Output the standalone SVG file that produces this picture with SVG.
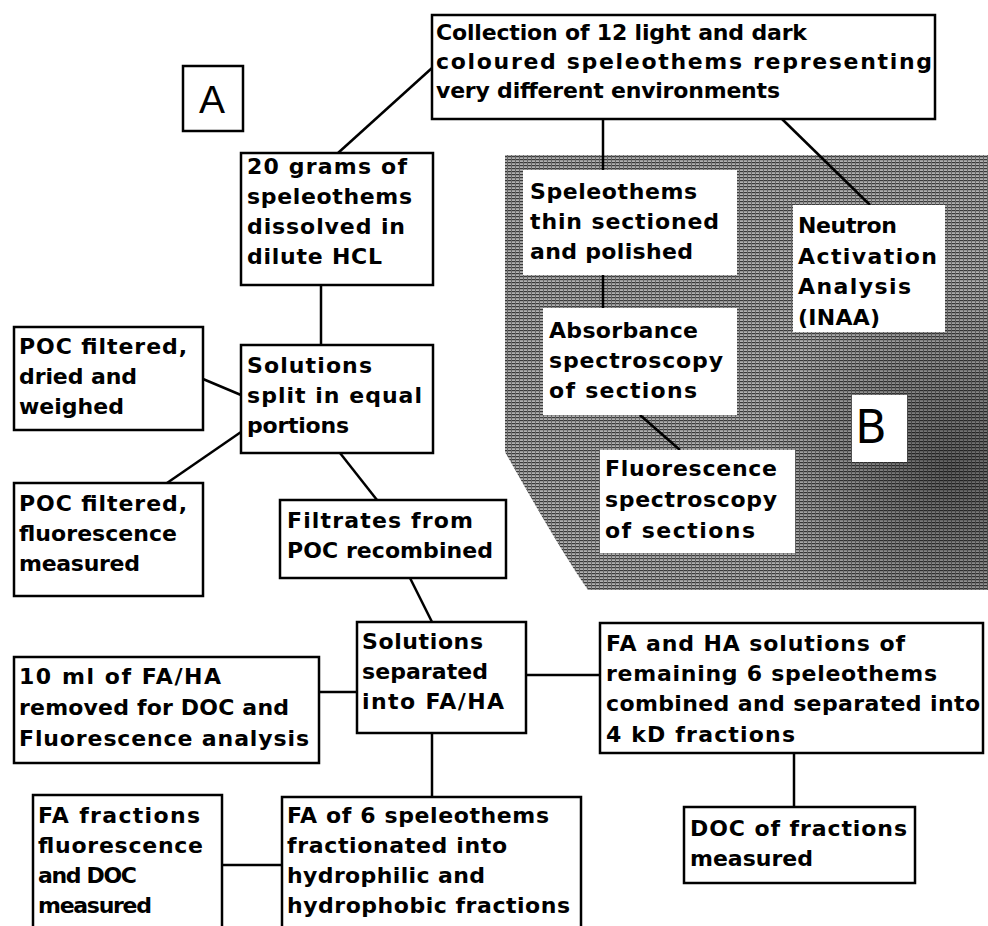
<svg xmlns="http://www.w3.org/2000/svg" width="988" height="926" viewBox="0 0 988 926">
<style>
.box{fill:#fff;stroke:#000;stroke-width:2.5}
.wb{fill:#fff;stroke:none}
.t{font-family:"DejaVu Sans","Liberation Sans",sans-serif;font-weight:bold;font-size:22px;fill:#000}
.c line{stroke:#000;stroke-width:2.5}
</style>
<defs>
<pattern id="ht" width="4" height="3" patternUnits="userSpaceOnUse">
<rect width="4" height="3" fill="#b0b0b0"/>
<rect y="0" width="4" height="1.2" fill="#3a3a3a"/>
<rect x="3" width="1" height="3" fill="#666"/>
</pattern>
<radialGradient id="dk" cx="950" cy="470" r="190" gradientUnits="userSpaceOnUse">
<stop offset="0" stop-color="#000" stop-opacity="0.45"/>
<stop offset="1" stop-color="#000" stop-opacity="0"/>
</radialGradient>
</defs>
<rect width="988" height="926" fill="#fff"/>
<g id="shade">
<path d="M505,155 H988 V590 H588 Q560,550 505,452 Z" fill="url(#ht)"/>
<path d="M505,155 H988 V590 H588 Q560,550 505,452 Z" fill="url(#dk)"/>
</g>
<g class="c" id="connectors">
<line x1="432" y1="68" x2="338" y2="153"/>
<line x1="603" y1="119" x2="603" y2="170"/>
<line x1="603" y1="275" x2="603" y2="308"/>
<line x1="782" y1="119" x2="870" y2="205"/>
<line x1="640" y1="415" x2="680" y2="450"/>
<line x1="321" y1="285" x2="321" y2="345"/>
<line x1="203" y1="379" x2="241" y2="395"/>
<line x1="241" y1="432" x2="167" y2="483"/>
<line x1="340" y1="453" x2="377" y2="500"/>
<line x1="410" y1="578" x2="432" y2="622"/>
<line x1="319" y1="692" x2="357" y2="692"/>
<line x1="526" y1="675" x2="600" y2="675"/>
<line x1="794" y1="753" x2="794" y2="807"/>
<line x1="432" y1="733" x2="432" y2="797"/>
<line x1="222" y1="865" x2="282" y2="865"/>
</g>
<g id="labelA">
<rect class="box" x="183" y="66" width="60" height="65"/>
<text x="212" y="113" text-anchor="middle" style="font-family:'Liberation Sans',sans-serif;font-size:39px">A</text>
</g>
<g id="collection">
<rect class="box" x="432" y="15" width="503" height="104"/>
<text class="t" x="436" y="40" textLength="371">Collection of 12 light and dark</text>
<text class="t" x="436" y="69" textLength="496">coloured speleothems representing</text>
<text class="t" x="436" y="98" textLength="344">very different environments</text>
</g>
<g id="dissolved">
<rect class="box" x="241" y="153" width="192" height="132"/>
<text class="t" x="247" y="174" textLength="160">20 grams of</text>
<text class="t" x="247" y="204" textLength="165">speleothems</text>
<text class="t" x="247" y="234" textLength="158">dissolved in</text>
<text class="t" x="247" y="264" textLength="135">dilute HCL</text>
</g>
<g id="split">
<rect class="box" x="241" y="345" width="192" height="108"/>
<text class="t" x="247" y="373" textLength="125">Solutions</text>
<text class="t" x="247" y="403" textLength="175">split in equal</text>
<text class="t" x="247" y="433" textLength="102">portions</text>
</g>
<g id="poc1">
<rect class="box" x="14" y="327" width="189" height="103"/>
<text class="t" x="19" y="354" textLength="168">POC filtered,</text>
<text class="t" x="19" y="384" textLength="118">dried and</text>
<text class="t" x="19" y="414" textLength="105">weighed</text>
</g>
<g id="poc2">
<rect class="box" x="14" y="483" width="189" height="113"/>
<text class="t" x="19" y="511" textLength="168">POC filtered,</text>
<text class="t" x="19" y="541" textLength="158">fluorescence</text>
<text class="t" x="19" y="571" textLength="121">measured</text>
</g>
<g id="filtrates">
<rect class="box" x="280" y="500" width="226" height="78"/>
<text class="t" x="287" y="528" textLength="186">Filtrates from</text>
<text class="t" x="287" y="558" textLength="206">POC recombined</text>
</g>
<g id="separated">
<rect class="box" x="357" y="622" width="169" height="111"/>
<text class="t" x="362" y="649" textLength="121">Solutions</text>
<text class="t" x="362" y="679" textLength="126">separated</text>
<text class="t" x="362" y="709" textLength="142">into FA/HA</text>
</g>
<g id="tenml">
<rect class="box" x="14" y="657" width="305" height="106"/>
<text class="t" x="19" y="684" textLength="202">10 ml of FA/HA</text>
<text class="t" x="19" y="715" textLength="270">removed for DOC and</text>
<text class="t" x="19" y="746" textLength="290">Fluorescence analysis</text>
</g>
<g id="fahacomb">
<rect class="box" x="600" y="623" width="383" height="130"/>
<text class="t" x="606" y="651" textLength="299">FA and HA solutions of</text>
<text class="t" x="606" y="681" textLength="331">remaining 6 speleothems</text>
<text class="t" x="606" y="711" textLength="374">combined and separated into</text>
<text class="t" x="606" y="742" textLength="189">4 kD fractions</text>
</g>
<g id="docfrac">
<rect class="box" x="684" y="807" width="231" height="76"/>
<text class="t" x="690" y="836" textLength="217">DOC of fractions</text>
<text class="t" x="690" y="866" textLength="123">measured</text>
</g>
<g id="fa6">
<rect class="box" x="282" y="797" width="299" height="150"/>
<text class="t" x="287" y="823" textLength="262">FA of 6 speleothems</text>
<text class="t" x="287" y="853" textLength="220">fractionated into</text>
<text class="t" x="287" y="883" textLength="198">hydrophilic and</text>
<text class="t" x="287" y="913" textLength="283">hydrophobic fractions</text>
</g>
<g id="fafrac">
<rect class="box" x="33" y="795" width="189" height="150"/>
<text class="t" x="38" y="823" textLength="162">FA fractions</text>
<text class="t" x="38" y="853" textLength="165">fluorescence</text>
<text class="t" x="38" y="883" textLength="99">and DOC</text>
<text class="t" x="38" y="913" textLength="114">measured</text>
</g>
<g id="sectioned">
<rect class="wb" x="523" y="170" width="214" height="105"/>
<text class="t" x="530" y="199" textLength="167">Speleothems</text>
<text class="t" x="530" y="229" textLength="189">thin sectioned</text>
<text class="t" x="530" y="259" textLength="163">and polished</text>
</g>
<g id="absorbance">
<rect class="wb" x="543" y="308" width="194" height="107"/>
<text class="t" x="549" y="338" textLength="149">Absorbance</text>
<text class="t" x="549" y="368" textLength="174">spectroscopy</text>
<text class="t" x="549" y="398" textLength="148">of sections</text>
</g>
<g id="neutron">
<rect class="wb" x="793" y="205" width="152" height="127"/>
<text class="t" x="798" y="233" textLength="99">Neutron</text>
<text class="t" x="798" y="264" textLength="139">Activation</text>
<text class="t" x="798" y="294" textLength="113">Analysis</text>
<text class="t" x="798" y="325" textLength="82">(INAA)</text>
</g>
<g id="fluorescence">
<rect class="wb" x="600" y="450" width="195" height="103"/>
<text class="t" x="605" y="476" textLength="172">Fluorescence</text>
<text class="t" x="605" y="507" textLength="172">spectroscopy</text>
<text class="t" x="605" y="538" textLength="150">of sections</text>
</g>
<g id="labelB">
<rect class="wb" x="852" y="395" width="55" height="67"/>
<text x="871" y="443" text-anchor="middle" style="font-family:'DejaVu Sans',sans-serif;font-size:46px">B</text>
</g>
</svg>
